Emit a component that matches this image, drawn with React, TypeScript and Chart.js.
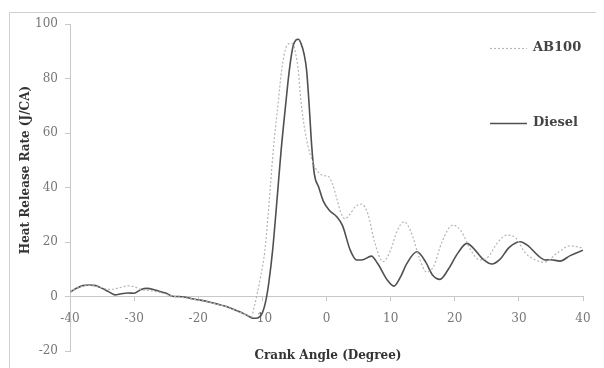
import React, { useEffect, useRef } from "react";
import { Chart, registerables } from "chart.js";

Chart.register(...registerables);

// Crank angle (degree) samples and heat release rate (J/CA)
const dieselAngle = [-40,-39,-38,-37,-36,-35,-34,-33,-32,-31,-30,-29,-28,-27,-26,-25,-24,-23,-22,-21,-20,-19,-18,-17,-16,-15,-14,-13,-12,-11.5,-11,-10.5,-10,-9.5,-9,-8.4,-7.7,-7.1,-6.3,-5.8,-5.2,-4.8,-4.4,-4.0,-3.5,-3.1,-2.7,-2.3,-1.9,-1.2,-0.5,0.5,1.6,2.5,3.7,4.7,5.5,7.0,8,9.5,10.5,11.5,12.5,14.1,15.5,16.5,17.7,19,20.5,21.9,23,24.5,25.8,27,28.5,30.2,31.5,33,34.1,35,36.4,38,40];
const dieselHRR = [1.6,3,4,4.2,4,3,1.8,0.6,1,1.3,1.2,2.5,3,2.6,1.8,1.2,0.1,0,-0.3,-0.8,-1.2,-1.6,-2.2,-2.8,-3.4,-4.2,-5.2,-6.2,-7.4,-8,-8,-7.6,-6,-2,5,17,36,53,72,83,92,94,94.4,93,89,83,70,55,45,40,35,31.5,29.3,26,17,13.4,13.4,14.8,12,6,3.8,7,12,16.4,12.5,8,6.3,10,16,19.5,17.5,13.5,11.9,13.5,18,20.1,18.5,15,13.4,13.5,13,15,17];

const ab100Angle = [-40,-39,-38,-37,-36,-35,-34,-33,-32,-31,-30,-29,-28,-27,-26,-25,-24,-23,-22,-21,-20,-19,-18,-17,-16,-15,-14,-13,-12,-11.7,-11.3,-10.9,-10.3,-9.6,-9,-8.3,-7.5,-7.0,-6.2,-5.7,-5.2,-4.8,-4.4,-4.0,-3.3,-2.6,-1.8,-1.0,-0.3,0.3,0.9,1.6,2.2,2.9,3.6,4.5,5.5,6.5,7.5,8.8,10,11,12.1,13.3,14.5,15.6,16.7,18,19.7,21,22.5,23.9,25.2,26.6,28.1,29.5,31,32.5,34,36,38,40];
const ab100HRR = [1.5,3,3.8,4.1,3.8,3.2,2.6,2.8,3.4,3.9,3.6,2.6,2.2,2,1.5,0.8,0.1,-0.2,-0.5,-0.9,-1.3,-1.7,-2.3,-2.9,-3.5,-4.3,-5.3,-6.3,-7.2,-7.5,-4,0,7,17,33,53.7,72,83,92,92.8,92.5,89,83,72,60,52.6,47.5,45,44.3,44,41.5,36,31,28.5,30,33,33.9,30,20,12.8,17,24,27.4,23,14,9,11,20,26.2,24,17,13.4,14.5,19.5,22.5,21.5,16,13.5,12.6,16,18.6,17.8];

const seriesNames = ["AB100", "Diesel"];
const xTitle = "Crank Angle (Degree)";
const yTitle = "Heat Release Rate (J/CA)";

const FONT = "'DejaVu Serif', serif";

const zip = (xs: number[], ys: number[]) => xs.map((x, i) => ({ x, y: ys[i] }));

const decorPlugin = {
  id: "decor",
  afterDraw(chart: any) {
    const ctx = chart.ctx;
    ctx.save();
    // outer frame
    ctx.strokeStyle = "#cfcfcf";
    ctx.lineWidth = 1;
    ctx.beginPath();
    ctx.moveTo(1.5, 800);
    ctx.lineTo(1.5, 4.5);
    ctx.lineTo(800, 4.5);
    ctx.stroke();

    // axis titles
    ctx.fillStyle = "#333";
    ctx.font = `bold 12px ${FONT}`;
    ctx.textAlign = "center";
    ctx.textBaseline = "middle";
    ctx.fillText(xTitle, 320, 348);
    ctx.save();
    ctx.translate(17.5, 162);
    ctx.rotate(-Math.PI / 2);
    ctx.fillText(yTitle, 0, 0);
    ctx.restore();

    // legend
    const items = [
      { name: seriesNames[0], y: 40, ds: chart.data.datasets[0] },
      { name: seriesNames[1], y: 115, ds: chart.data.datasets[1] },
    ];
    items.forEach((it) => {
      ctx.strokeStyle = it.ds.borderColor;
      ctx.lineWidth = it.ds.borderWidth;
      ctx.setLineDash(it.ds.borderDash || []);
      ctx.beginPath();
      ctx.moveTo(482, it.y + 0.5);
      ctx.lineTo(519, it.y + 0.5);
      ctx.stroke();
      ctx.setLineDash([]);
      ctx.fillStyle = "#444";
      ctx.font = `bold 13px ${FONT}`;
      ctx.textAlign = "left";
      ctx.textBaseline = "middle";
      ctx.fillText(it.name, 525, it.y);
    });
    ctx.restore();
  },
};

export default function App() {
  const ref = useRef<HTMLCanvasElement | null>(null);
  useEffect(() => {
    if (!ref.current) return;
    const chart = new Chart(ref.current, {
      type: "line",
      data: {
        datasets: [
          {
            label: seriesNames[0],
            data: zip(ab100Angle, ab100HRR),
            borderColor: "#b5b5b5",
            borderWidth: 1.2,
            borderDash: [2, 2],
            pointRadius: 0,
            cubicInterpolationMode: "monotone",
            fill: false,
          },
          {
            label: seriesNames[1],
            data: zip(dieselAngle, dieselHRR),
            borderColor: "#505050",
            borderWidth: 1.6,
            pointRadius: 0,
            cubicInterpolationMode: "monotone",
            fill: false,
          },
        ],
      },
      options: {
        animation: false,
        responsive: false,
        maintainAspectRatio: false,
        layout: { padding: { left: 0, right: 21, top: 16, bottom: 17 } },
        plugins: { legend: { display: false }, tooltip: { enabled: false } },
        scales: {
          x: {
            type: "linear",
            position: { y: 0 } as any,
            min: -40,
            max: 40,
            afterFit: (s: any) => { s.height = 0; },
            ticks: { stepSize: 10, color: "#777", font: { family: FONT, size: 12 }, padding: 11 },
            grid: { drawOnChartArea: false, drawTicks: true, tickLength: 4, color: "#c8c8c8" },
            border: { display: true, color: "#c8c8c8" },
          },
          y: {
            type: "linear",
            min: -20,
            max: 100,
            afterFit: (s: any) => { s.width = 62; },
            ticks: { stepSize: 20, color: "#777", font: { family: FONT, size: 12 }, padding: 7 },
            grid: { drawOnChartArea: false, drawTicks: true, tickLength: 5, color: "#c8c8c8" },
            border: { display: true, color: "#c8c8c8" },
          },
        },
      },
      plugins: [decorPlugin],
    });
    return () => chart.destroy();
  }, []);
  return (
    <div style={{ width: 596, height: 360 }}>
      <canvas ref={ref} width={596} height={360} style={{ display: "block" }} />
    </div>
  );
}
